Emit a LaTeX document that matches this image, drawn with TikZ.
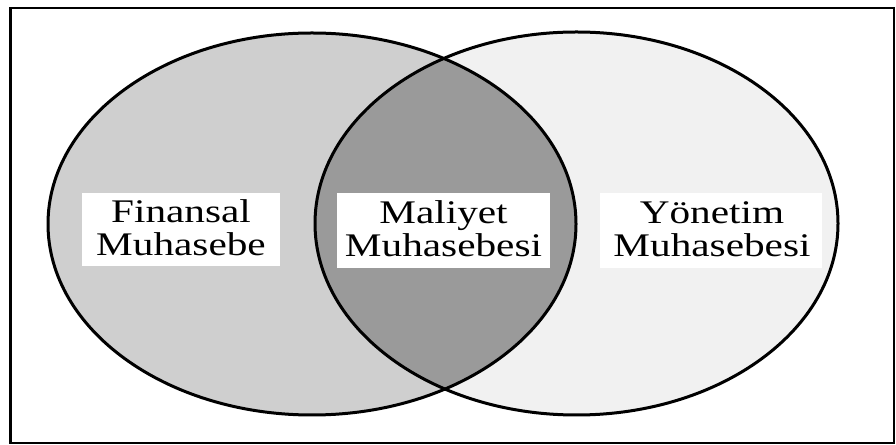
\documentclass[tikz,border=0pt]{standalone}
\usepackage{fontspec}
\setmainfont{Liberation Serif}
\usepackage{graphicx}
\definecolor{leftgray}{HTML}{CFCFCF}
\definecolor{midgray}{HTML}{9A9A9A}
\definecolor{rightgray}{HTML}{F1F1F1}
\tikzset{
  wbox/.style={fill=white, draw=none, inner sep=0pt},
  lbl/.style={inner sep=0pt, font=\fontsize{33}{32}\selectfont},
  ring/.style={draw=black, line width=3pt},
}
\newcommand{\twoline}[2]{\scalebox{1.25}[1]{\begin{tabular}{@{}c@{}}#1\\#2\end{tabular}}}
\begin{document}
\begin{tikzpicture}[x=1pt,y=1pt]
\useasboundingbox (0,0) rectangle (896,444);
\fill[white] (0,0) rectangle (896,444);
% frame
\draw[line width=1.4pt] (10,1) rectangle (894,436);
\draw[line width=3pt] (10,1) -- (10,436);
% ellipse fills
\fill[leftgray] (312,220) ellipse [x radius=264, y radius=191];
\fill[rightgray] (576.5,220.5) ellipse [x radius=261.5, y radius=191.5];
\begin{scope}
  \clip (312,220) ellipse [x radius=264, y radius=191];
  \fill[midgray] (576.5,220.5) ellipse [x radius=261.5, y radius=191.5];
\end{scope}
% outlines
\draw[ring] (312,220) ellipse [x radius=264, y radius=191];
\draw[ring] (576.5,220.5) ellipse [x radius=261.5, y radius=191.5];
% label boxes
\node[wbox, minimum width=198pt, minimum height=73pt] (fbox) at (181,214.5) {};
\node[wbox, minimum width=213pt, minimum height=75pt] (mbox) at (443.5,213.5) {};
\node[wbox, minimum width=222pt, minimum height=75pt] (ybox) at (711,213.5) {};
\node[lbl] (ftext) at ([yshift=-3pt]fbox.center) {\twoline{Finansal}{Muhasebe}};
\node[lbl] (mtext) at ([yshift=-3pt]mbox.center) {\twoline{Maliyet}{Muhasebesi}};
\node[lbl] (ytext) at ([yshift=-3pt,xshift=1pt]ybox.center) {\twoline{Yönetim}{Muhasebesi}};
\end{tikzpicture}
\end{document}
